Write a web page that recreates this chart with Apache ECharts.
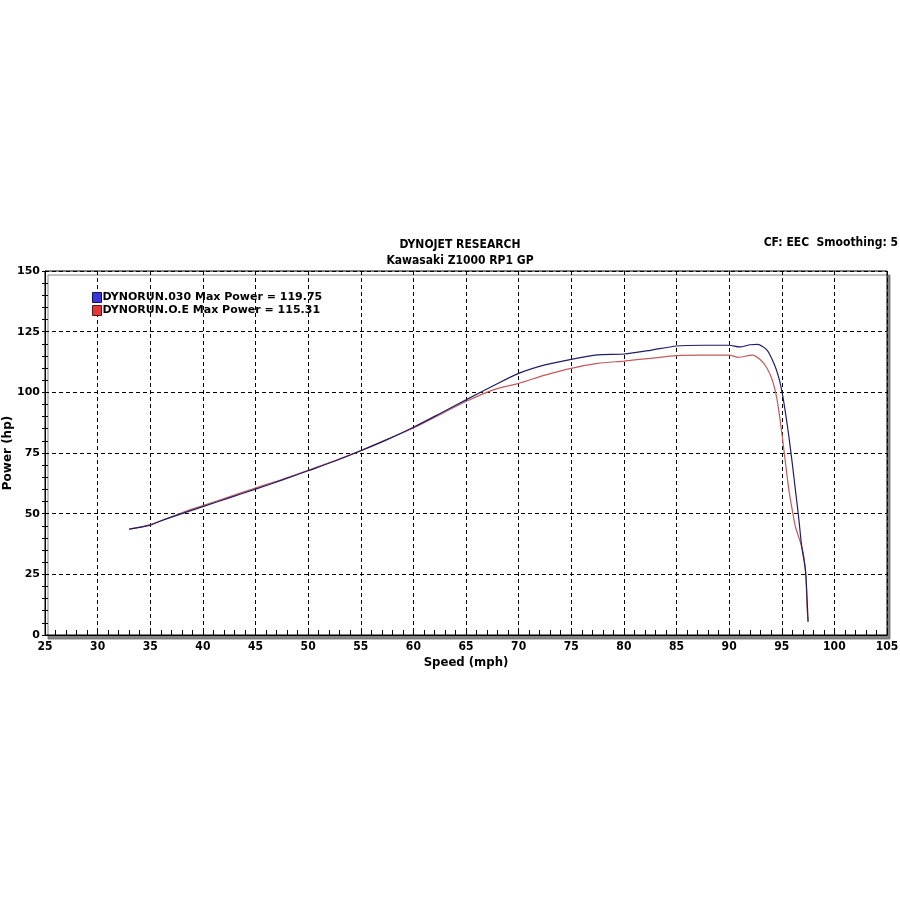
<!DOCTYPE html>
<html>
<head>
<meta charset="utf-8">
<script src="https://cdn.jsdelivr.net/npm/echarts@6/dist/echarts.min.js"></script>
<style>html,body{margin:0;padding:0;background:#fff;}#c{width:900px;height:900px;}</style>
</head>
<body>
<div id="c"></div>
<script>
const titleMain = 'DYNOJET RESEARCH';
const titleSub = 'Kawasaki Z1000 RP1 GP';
const cornerNote = 'CF: EEC  Smoothing: 5';
const runNames = ['DYNORUN.030', 'DYNORUN.O.E'];
const maxPower = ['119.75', '115.31'];

const speedBlue = [33,35,36,38,40,42.5,45,47.5,50,52.5,55,57.5,60,62.5,65,67.5,70,72.5,75,77.5,80,82.5,85,87.5,90,91,92,92.7,93.6,94.25,94.7,95.05,95.36,95.68,96.0,96.3,96.6,96.9,97.25,97.4,97.5];
const powerBlue = [43.6,45.3,47,50,52.9,56.5,60.1,63.8,67.7,71.6,75.9,80.5,85.6,91.2,96.9,102.5,107.8,111.3,113.6,115.4,115.8,117.3,119.1,119.4,119.4,118.7,119.6,119.75,117.4,112,106.4,99.6,91.4,81.7,70.7,59.7,48.7,36.4,26.8,15.8,5.5];

const speedRed = [33,35,38,40,42.5,45,47.5,50,52.5,55,57.5,60,62.5,65,67.5,70,72.5,75,77.5,80,82.5,85,87.5,90,90.9,92.2,93.0,93.6,94.1,94.5,94.8,95.05,95.36,95.68,96.0,96.3,96.8,97.1,97.3,97.4,97.5];
const powerRed = [43.6,45.5,50.4,53.3,56.9,60.6,64.1,67.9,71.8,76,80.6,85.3,90.8,96.2,100.9,103.7,107.1,109.9,111.9,112.9,114,115.1,115.3,115.3,114.4,115.31,113.3,109.9,105.1,98.2,90,81.7,70.7,59.7,51.5,44.6,37.8,32.3,24,11.7,5.5];

const zip = (xs, ys) => xs.map((x, i) => [x, ys[i]]);

const chart = echarts.init(document.getElementById('c'), null, {renderer: 'canvas'});
const condensed = '"DejaVu Sans Condensed", "DejaVu Sans", sans-serif';
const verdana = '"DejaVu Sans", sans-serif';

chart.setOption({
  animation: false,
  backgroundColor: '#fff',
  title: [
    {text: titleMain, left: 455, top: 234, textAlign: 'center',
     textStyle: {fontFamily: condensed, fontSize: 12, fontWeight: 'bold', color: '#000'}},
    {text: titleSub, left: 455, top: 250, textAlign: 'center',
     textStyle: {fontFamily: condensed, fontSize: 12, fontWeight: 'bold', color: '#000'}},
    {text: cornerNote, right: -3, top: 232,
     textStyle: {fontFamily: condensed, fontSize: 12, fontWeight: 'bold', color: '#000'}}
  ],
  legend: {
    orient: 'vertical', left: 87, top: 287, itemWidth: 9, itemHeight: 10, itemGap: 2,
    icon: 'rect', selectedMode: false,
    data: [
      {name: runNames[0], itemStyle: {color: '#3838d8', borderColor: '#101060', borderWidth: 1}},
      {name: runNames[1], itemStyle: {color: '#e03838', borderColor: '#601010', borderWidth: 1}}
    ],
    formatter: (n) => n + ' Max Power = ' + maxPower[runNames.indexOf(n)],
    textStyle: {fontFamily: verdana, fontSize: 11, fontWeight: 'bold', color: '#000', padding: [0,0,0,-4]}
  },
  grid: {
    show: true, left: 45, right: 13, top: 271, bottom: 265, outerBoundsMode: 'none', containLabel: false,
    backgroundColor: '#fff', borderColor: '#000', borderWidth: 1,
    shadowColor: 'rgba(110,110,110,0.85)', shadowBlur: 0, shadowOffsetX: 3, shadowOffsetY: 4
  },
  xAxis: {
    type: 'value', min: 25, max: 105, interval: 5,
    name: 'Speed (mph)', nameLocation: 'middle', nameGap: 21,
    nameTextStyle: {fontFamily: condensed, fontSize: 13, fontWeight: 'bold', color: '#000'},
    axisLine: {lineStyle: {color: '#000', width: 1}},
    axisTick: {show: true, inside: true, length: 5, lineStyle: {color: '#000'}},
    minorTick: {show: true, splitNumber: 5, length: 5, lineStyle: {color: '#000'}},
    axisLabel: {fontFamily: condensed, fontSize: 12, fontWeight: 'bold', color: '#000', margin: 6},
    splitLine: {show: true, lineStyle: {color: '#000', type: [4, 3], width: 1}}
  },
  yAxis: [
    {
      type: 'value', min: 0, max: 150, interval: 25,
      name: 'Power (hp)', nameLocation: 'middle', nameGap: 31, nameMoveOverlap: false,
      nameTextStyle: {fontFamily: verdana, fontSize: 12, fontWeight: 'bold', color: '#000'},
      axisLine: {show: true, lineStyle: {color: '#000', width: 1}},
      axisTick: {show: true, inside: false, length: 3, lineStyle: {color: '#000'}},
      minorTick: {show: true, splitNumber: 5, length: 3, lineStyle: {color: '#000'}},
      axisLabel: {fontFamily: verdana, fontSize: 11, fontWeight: 'bold', color: '#000', margin: 5},
      splitLine: {show: true, lineStyle: {color: '#000', type: [4, 3], width: 1}}
    },
    {
      type: 'value', min: 0, max: 150, interval: 25, position: 'left',
      axisLine: {show: false},
      axisTick: {show: true, inside: true, length: 3, lineStyle: {color: '#000'}},
      minorTick: {show: true, splitNumber: 5, length: 3, lineStyle: {color: '#000'}},
      axisLabel: {show: false},
      splitLine: {show: false}
    }
  ],
  series: [
    {name: runNames[1], type: 'line', data: zip(speedRed, powerRed), showSymbol: false,
     smooth: 0.25,
     lineStyle: {color: '#c45a5a', width: 1.2}, itemStyle: {color: '#c45a5a'}},
    {name: runNames[0], type: 'line', data: zip(speedBlue, powerBlue), showSymbol: false,
     smooth: 0.25,
     lineStyle: {color: '#1e1e66', width: 1.2}, itemStyle: {color: '#1e1e66'}}
  ]
});
</script>
</body>
</html>
